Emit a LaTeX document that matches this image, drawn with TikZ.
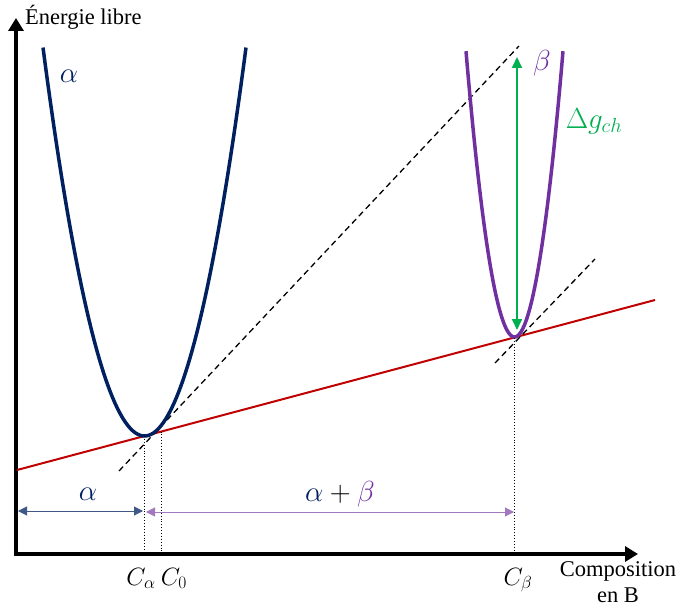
\RequirePackage{fix-cm}
\documentclass[tikz,border=0pt]{standalone}
\usepackage{fontspec}
\setmainfont{Liberation Serif}
\usetikzlibrary{arrows.meta}
\definecolor{navy}{RGB}{0,32,96}
\definecolor{purp}{RGB}{112,48,160}
\definecolor{grn}{RGB}{0,176,80}
\definecolor{redl}{RGB}{192,0,0}
\begin{document}
\begin{tikzpicture}[x=1pt,y=-1pt,
  axis/.style={line width=4.5pt,-{Triangle[length=13pt,width=15pt]}},
  curve/.style={line width=3.5pt},
  tangent/.style={line width=1.3pt,dashed,dash pattern=on 6pt off 4pt},
  guide/.style={line width=0.9pt,dotted},
  span/.style={line width=1pt,{Triangle[length=9pt,width=9pt]}-{Triangle[length=9pt,width=9pt]}},
  txt/.style={inner sep=0pt,font=\fontsize{22.5}{26}\selectfont},
  mlab/.style={inner sep=0pt,font=\fontsize{29}{34}\selectfont},
  clab/.style={inner sep=0pt,font=\fontsize{25}{29}\selectfont}]
\useasboundingbox (0,0) rectangle (681,610);
% axes
\coordinate (O) at (16,554);
\coordinate (ytop) at (16,18);
\coordinate (xend) at (638,554);
\draw[axis] (O) -- (ytop);
\draw[axis] ([xshift=-2.25pt]O) -- (xend);
% red common tangent
\coordinate (r1) at (17,470);
\coordinate (r2) at (655,300);
\draw[redl,line width=2pt] (r1) -- (r2);
% dashed tangents
\coordinate (d1a) at (119,471);
\coordinate (d1b) at (519,46);
\draw[tangent] (d1a) -- (d1b);
\coordinate (d2a) at (495,363);
\coordinate (d2b) at (595,259);
\draw[tangent] (d2a) -- (d2b);
% alpha curve
\draw[navy,curve] plot[domain=43:246,samples=80] (\x,{436-0.0377*(\x-144.5)^2});
% beta curve
\draw[purp,curve] plot[domain=466:563,samples=80] (\x,{337-0.1215*(\x-514.5)^2});
% guides
\coordinate (ca) at (144,436);
\coordinate (c0) at (161,431.5);
\coordinate (cb) at (514,338);
\coordinate (ca0) at (144,554);
\coordinate (c00) at (161,554);
\coordinate (cb0) at (514,554);
\draw[guide] (ca) -- (ca0);
\draw[guide] (c0) -- (c00);
\draw[guide] (cb) -- (cb0);
% green arrow
\coordinate (gt) at (517,57);
\coordinate (gb) at (517,330);
\draw[grn,line width=1.8pt,{Triangle[length=11pt,width=10pt]}-{Triangle[length=11pt,width=10pt]}] (gt) -- (gb);
% span arrows
\coordinate (s1) at (18,511);
\coordinate (s2) at (143,511);
\coordinate (s3) at (146,512);
\coordinate (s4) at (514,512);
\draw[span,navy,draw=navy!75] (s1) -- (s2);
\draw[span,purp,draw=purp!65] (s3) -- (s4);
% labels
\node[txt,anchor=base west] (elabel) at (25,25) {Énergie libre};
\node[txt,anchor=base] (comp) at (618,576) {Composition};
\node[txt,anchor=base] (enb) at (618,602) {en B};
\node[mlab,navy] (la) at (69,76) {$\alpha$};
\node[mlab,purp] (lb) at (542,63) {$\beta$};
\node[mlab,grn] (lg) at (594,121) {$\Delta g_{ch}$};
\node[mlab,navy] (lsa) at (88,494) {$\alpha$};
\node[mlab] (lsab) at (340,494) {$\color{navy}\alpha\color{black}+\color{purp}\beta$};
\node[clab,anchor=base] (lca) at (141,585) {$C_\alpha$};
\node[clab,anchor=base] (lc0) at (174,585) {$C_0$};
\node[clab,anchor=base] (lcb) at (518,585) {$C_\beta$};
\end{tikzpicture}
\end{document}
